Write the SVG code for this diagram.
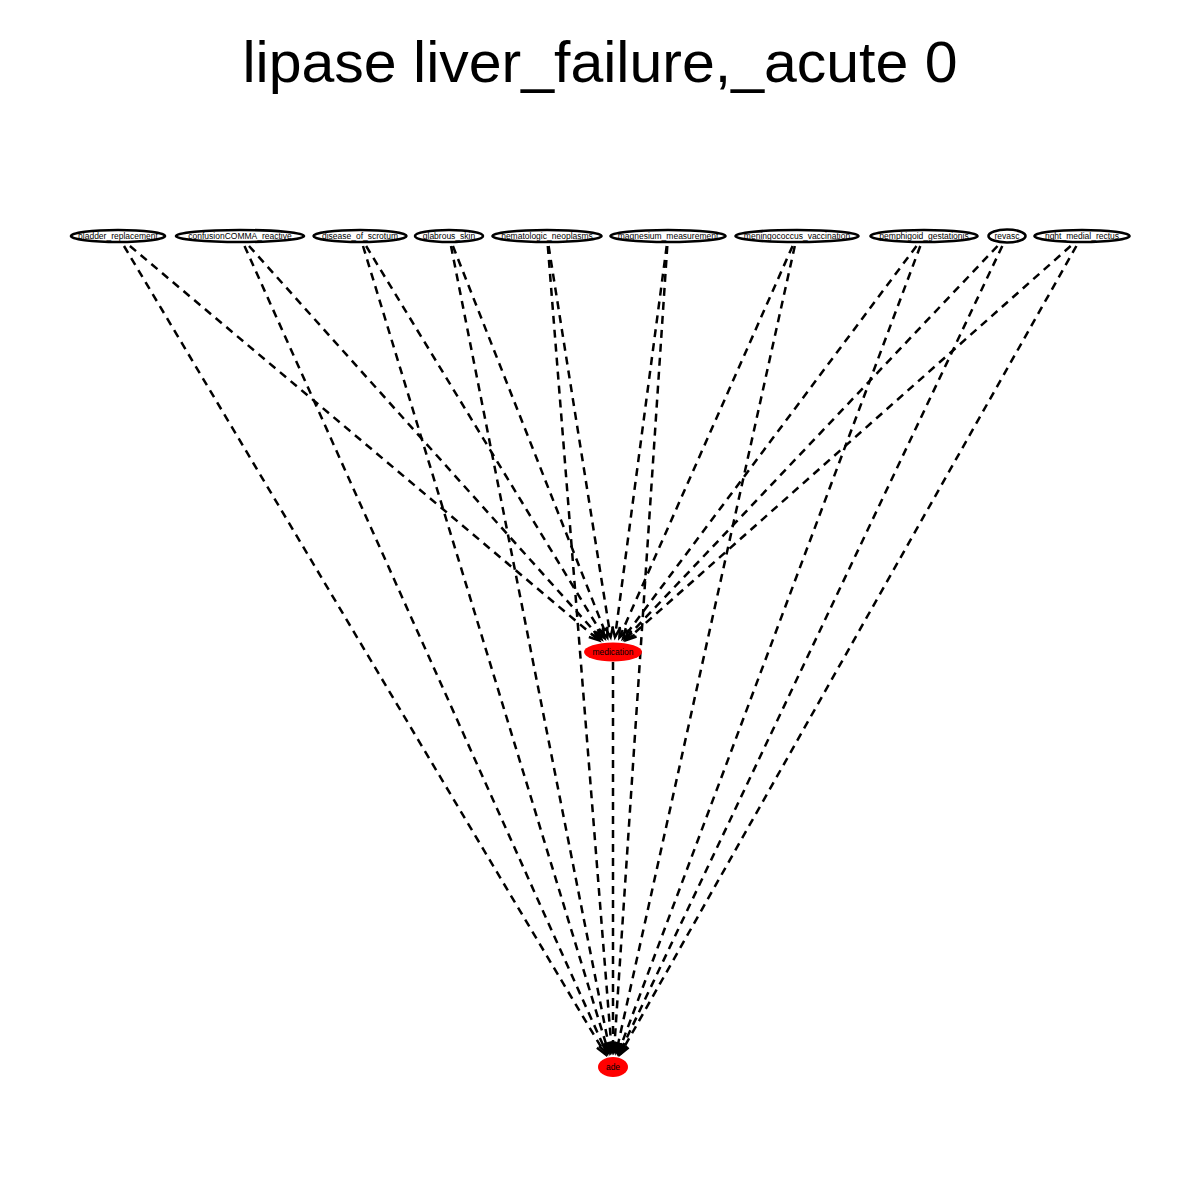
<svg xmlns="http://www.w3.org/2000/svg" width="1200" height="1200" viewBox="0 0 1200 1200">
<style>
.title{font-family:"Liberation Sans",Arial,sans-serif;font-size:58px;fill:#000;text-anchor:middle}
.lbl{font-family:"Liberation Sans",Arial,sans-serif;font-size:8.5px;fill:#000;text-anchor:middle;dominant-baseline:central}
.top{fill:#fff;stroke:#000;stroke-width:2.6}
.red{fill:#ff0000;stroke:none}
.edge{stroke:#000;stroke-width:2.5;stroke-dasharray:8,6;fill:none;marker-end:url(#arr)}
</style>
<defs>
<marker id="arr" markerUnits="userSpaceOnUse" viewBox="-12 -6 14 12" refX="0" refY="0" markerWidth="14" markerHeight="12" orient="auto" overflow="visible">
<path d="M-10,-4 L0,0 L-10,4" fill="none" stroke="#000" stroke-width="2.5" stroke-dasharray="none"/>
</marker>
</defs>
<rect width="1200" height="1200" fill="#fff"/>
<text class="title" x="600" y="82" textLength="715" lengthAdjust="spacingAndGlyphs">lipase liver_failure,_acute 0</text>
<g id="connectors">
<line class="edge" x1="129.9" y1="246" x2="599.1" y2="640.4"/>
<line class="edge" x1="249.0" y1="246" x2="601.5" y2="639.2"/>
<line class="edge" x1="366.1" y1="246" x2="604.6" y2="638.1"/>
<line class="edge" x1="452.9" y1="246" x2="607.3" y2="637.5"/>
<line class="edge" x1="548.6" y1="246" x2="610.6" y2="637.1"/>
<line class="edge" x1="666.7" y1="246" x2="615.0" y2="637.1"/>
<line class="edge" x1="792.6" y1="246" x2="619.4" y2="637.6"/>
<line class="edge" x1="916.5" y1="246" x2="623.0" y2="638.6"/>
<line class="edge" x1="997.5" y1="246" x2="624.9" y2="639.4"/>
<line class="edge" x1="1070.7" y1="246" x2="626.4" y2="640.1"/>
<line class="edge" x1="124.0" y1="246" x2="605.5" y2="1054.4"/>
<line class="edge" x1="244.5" y1="246" x2="606.9" y2="1053.5"/>
<line class="edge" x1="363.0" y1="246" x2="608.7" y2="1052.7"/>
<line class="edge" x1="451.0" y1="246" x2="610.1" y2="1052.3"/>
<line class="edge" x1="547.8" y1="246" x2="611.8" y2="1052.0"/>
<line class="edge" x1="667.3" y1="246" x2="614.0" y2="1052.0"/>
<line class="edge" x1="794.8" y1="246" x2="616.2" y2="1052.4"/>
<line class="edge" x1="920.3" y1="246" x2="618.2" y2="1053.0"/>
<line class="edge" x1="1002.3" y1="246" x2="619.3" y2="1053.6"/>
<line class="edge" x1="1076.4" y1="246" x2="620.2" y2="1054.2"/>
<line class="edge" x1="613" y1="662" x2="613" y2="1052"/>
</g>
<g id="n-bladder_replacement"><ellipse class="top" cx="118" cy="236" rx="47" ry="6"/><text class="lbl" x="118" y="236">bladder_replacement</text></g>
<g id="n-confusionCOMMA_reactive"><ellipse class="top" cx="240" cy="236" rx="64" ry="6"/><text class="lbl" x="240" y="236">confusionCOMMA_reactive</text></g>
<g id="n-disease_of_scrotum"><ellipse class="top" cx="360" cy="236" rx="46.5" ry="6"/><text class="lbl" x="360" y="236">disease_of_scrotum</text></g>
<g id="n-glabrous_skin"><ellipse class="top" cx="449" cy="236" rx="34" ry="6"/><text class="lbl" x="449" y="236">glabrous_skin</text></g>
<g id="n-hematologic_neoplasms"><ellipse class="top" cx="547" cy="236" rx="54.5" ry="6"/><text class="lbl" x="547" y="236">hematologic_neoplasms</text></g>
<g id="n-magnesium_measurement"><ellipse class="top" cx="668" cy="236" rx="57.5" ry="6"/><text class="lbl" x="668" y="236">magnesium_measurement</text></g>
<g id="n-meningococcus_vaccination"><ellipse class="top" cx="797" cy="236" rx="61.5" ry="6"/><text class="lbl" x="797" y="236">meningococcus_vaccination</text></g>
<g id="n-pemphigoid_gestationis"><ellipse class="top" cx="924" cy="236" rx="53.5" ry="6"/><text class="lbl" x="924" y="236">pemphigoid_gestationis</text></g>
<g id="n-revasc"><ellipse class="top" cx="1007" cy="236" rx="18.5" ry="6.5"/><text class="lbl" x="1007" y="236">revasc</text></g>
<g id="n-right_medial_rectus"><ellipse class="top" cx="1082" cy="236" rx="47.5" ry="6"/><text class="lbl" x="1082" y="236">right_medial_rectus</text></g>
<g id="n-medication"><ellipse class="red" cx="613" cy="652" rx="29" ry="9.5"/><text class="lbl" x="613" y="652">medication</text></g>
<g id="n-ade"><ellipse class="red" cx="613" cy="1067" rx="15" ry="10"/><text class="lbl" x="613" y="1067">ade</text></g>
</svg>
